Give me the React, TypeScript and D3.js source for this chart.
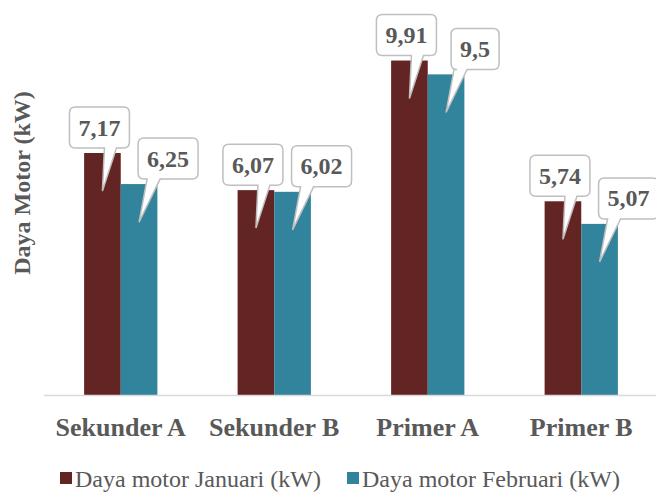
import React from "react";
import * as d3 from "d3";

const categories = ["Sekunder A", "Sekunder B", "Primer A", "Primer B"];
const seriesNames = ["Daya motor Januari (kW)", "Daya motor Februari (kW)"];
const januari = [7.17, 6.07, 9.91, 5.74];
const februari = [6.25, 6.02, 9.5, 5.07];
const colors = ["#632523", "#31849B"];
const axisTitle = "Daya Motor (kW)";

const W = 656;
const H = 492;
const FONT = "Liberation Serif, Times New Roman, Times, Tinos, DejaVu Serif, serif";
const TEXT = "#595959";

function labelText(v: number) {
  return String(v).replace(".", ",");
}
function labelWidth(s: string) {
  let w = 0;
  for (const ch of s) w += ch === "," ? 6 : 12;
  return w;
}

function calloutPath(cx: number, top: number, w: number, h: number, tipX: number, tipY: number, b1: number, b2: number) {
  const r = 6;
  const l = cx - w / 2;
  const rr = cx + w / 2;
  const b = top + h;
  return [
    `M${l + r},${top}`,
    `L${rr - r},${top}`,
    `Q${rr},${top} ${rr},${top + r}`,
    `L${rr},${b - r}`,
    `Q${rr},${b} ${rr - r},${b}`,
    `L${b2},${b}`,
    `L${tipX},${tipY}`,
    `L${b1},${b}`,
    `L${l + r},${b}`,
    `Q${l},${b} ${l},${b - r}`,
    `L${l},${top + r}`,
    `Q${l},${top} ${l + r},${top}`,
    "Z",
  ].join(" ");
}

export default function App() {
  const x0 = d3.scaleBand<string>().domain(categories).range([44, 658]).paddingInner(0).paddingOuter(0);
  const groupW = (x0.bandwidth() * 2) / 4.19;
  const x1 = d3.scaleBand<string>().domain(["0", "1"]).range([0, groupW]);
  const y = d3.scaleLinear().domain([0, 10]).range([395, 57.5]);
  const series = [januari, februari];

  const bars: any[] = [];
  const labels: any[] = [];
  series.forEach((vals, si) => {
    vals.forEach((v, ci) => {
      const cat = categories[ci];
      const bx = (x0(cat) as number) + (x0.bandwidth() - groupW) / 2 + (x1(String(si)) as number);
      const bw = x1.bandwidth();
      const top = y(v);
      bars.push(
        <rect key={`b${si}-${ci}`} x={bx} y={top} width={bw} height={y(0) - top} fill={colors[si]} />
      );
      const tipX = bx + bw / 2;
      const tipY = top + 38;
      const cx = si === 0 ? tipX - 3 : tipX + 29;
      const s = labelText(v);
      const bwid = labelWidth(s) + 18;
      const bh = 41;
      const btop = top - 46;
      const b1 = si === 0 ? tipX + 2 : tipX + 8;
      const b2 = si === 0 ? tipX + 14 : tipX + 21;
      labels.push(
        <g key={`l${si}-${ci}`}>
          <path d={calloutPath(cx, btop, bwid, bh, tipX, tipY, b1, b2)} fill="#ffffff" stroke="#bfbfbf" strokeWidth={1.5} />
          <text x={cx} y={btop + bh / 2 + 8} textAnchor="middle" style={{ fontFamily: FONT }} fontWeight="bold" fontSize={24} fill={TEXT}>
            {s}
          </text>
        </g>
      );
    });
  });

  return (
    <div style={{ position: "absolute", left: 0, top: 0 }}>
      <svg width={W} height={H} style={{ display: "block", background: "#ffffff" }}>
        <rect x={0} y={0} width={W} height={H} fill="#ffffff" />
        {bars}
        <line x1={44} x2={W} y1={y(0) + 0.5} y2={y(0) + 0.5} stroke="#d9d9d9" strokeWidth={1.5} />
        {labels}
        {categories.map((c) => (
          <text key={c} x={(x0(c) as number) + x0.bandwidth() / 2} y={436} textAnchor="middle" style={{ fontFamily: FONT }} fontWeight="bold" fontSize={26} fill={TEXT}>
            {c}
          </text>
        ))}
        <text transform={`translate(30,183) rotate(-90)`} textAnchor="middle" style={{ fontFamily: FONT }} fontWeight="bold" fontSize={24} fill={TEXT}>
          {axisTitle}
        </text>
        {seriesNames.map((n, i) => {
          const lx = i === 0 ? 60 : 347;
          return (
            <g key={n}>
              <rect x={lx} y={472} width={12} height={12} fill={colors[i]} />
              <text x={lx + 15} y={487} style={{ fontFamily: FONT }} fontSize={24} fill={TEXT}>
                {n}
              </text>
            </g>
          );
        })}
      </svg>
    </div>
  );
}
